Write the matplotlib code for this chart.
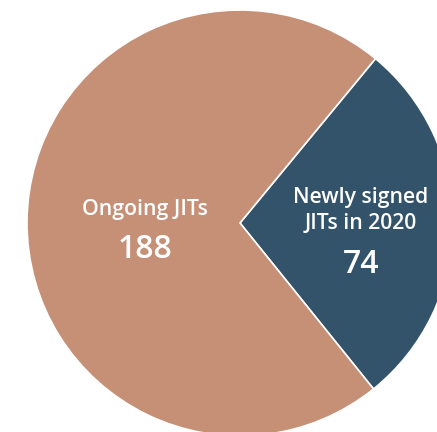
import matplotlib.pyplot as plt

# Data
labels = ['Newly signed\nJITs in 2020', 'Ongoing JITs']
values = [74, 188]
colors = ['#325369', '#C69076']

plt.rcParams['font.family'] = ['Open Sans', 'DejaVu Sans']

fig = plt.figure(figsize=(4.37, 4.32), dpi=100)
ax = fig.add_axes([0, 0, 1, 1])

wedges, _ = ax.pie(values, colors=colors, startangle=50.5, counterclock=False,
                   radius=1.0, wedgeprops=dict(edgecolor='white', linewidth=1.2))

# cropped view: centre at (240, 223) px, radius 213 px
r_px = 213
ax.set_xlim(-240 / r_px, (437 - 240) / r_px)
ax.set_ylim(-(432 - 223) / r_px, 223 / r_px)
ax.set_aspect('auto')
ax.axis('off')

# labels
ax.text(-0.447, 0.063, labels[1], ha='center', va='center', color='white',
        fontsize=15.3, fontweight='semibold')
ax.text(-0.447, -0.125, f'{values[1]}', ha='center', va='center', color='white',
        fontsize=23, fontweight='semibold')
ax.text(0.565, 0.058, labels[0], ha='center', va='center', color='white',
        fontsize=15.2, fontweight='semibold', linespacing=1.32)
ax.text(0.568, -0.195, f'{values[0]}', ha='center', va='center', color='white',
        fontsize=23, fontweight='semibold')

fig.savefig('out.png', dpi=100)
plt.close()
